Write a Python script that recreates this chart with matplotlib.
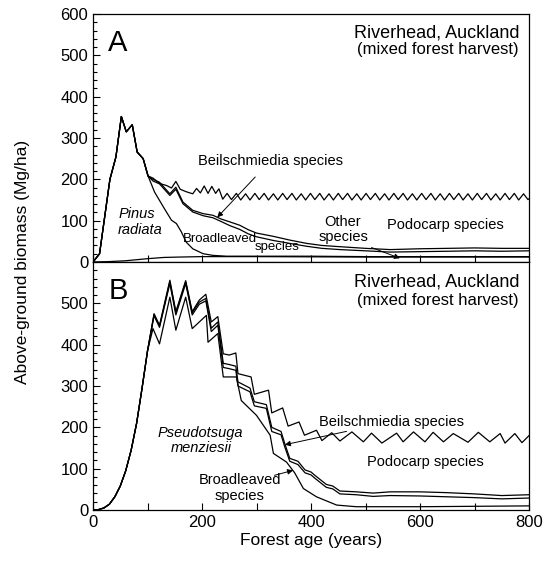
import matplotlib
matplotlib.use('Agg')
import matplotlib.pyplot as plt
from matplotlib.ticker import MultipleLocator

plt.rcParams['font.family'] = ['Liberation Sans', 'DejaVu Sans']

# ---- Panel A data (Riverhead, Pinus radiata) ----
A_early_x = [0, 12, 31, 42, 52, 61, 72, 81, 92, 101]
A_early_y = [0, 20, 200, 254, 352, 315, 332, 266, 250, 208]

# top line (Podocarp species upper bound)
A_pod_x = [110, 122, 135, 144, 152, 160, 171, 183, 190, 197, 204, 211, 218, 225, 231, 238,
           246, 254, 263, 271, 280, 288, 297, 305, 314, 322, 331, 339, 348, 356, 365, 373,
           382, 390, 399, 407, 416, 424, 433, 441, 450, 458, 467, 475, 484, 492, 501, 509,
           518, 526, 535, 543, 552, 560, 569, 577, 586, 594, 603, 611, 620, 628, 637, 645,
           654, 662, 671, 679, 688, 696, 705, 713, 722, 730, 739, 747, 756, 764, 773, 781,
           790, 798, 800]
A_pod_y = [203, 190, 185, 179, 195, 176, 170, 165, 178, 167, 184, 166, 183, 166, 177, 152,
           166, 151, 166, 150, 165, 150, 166, 151, 166, 150, 165, 150, 166, 151, 166, 150,
           165, 150, 166, 151, 166, 150, 165, 150, 166, 151, 166, 150, 165, 150, 166, 151,
           166, 150, 165, 150, 166, 151, 166, 150, 165, 150, 166, 151, 166, 150, 165, 150,
           166, 151, 166, 150, 165, 150, 166, 151, 166, 150, 165, 150, 166, 151, 166, 150,
           165, 151, 153]

# Beilschmiedia pair
A_beil_x = [110, 122, 141, 152, 165, 183, 202, 220, 235, 251, 269, 285, 300, 331, 361, 392,
            420, 453, 500, 545, 600, 650, 700, 750, 800]
A_beil1_y = [200, 193, 165, 181, 145, 125, 117, 113, 104, 97, 89, 78, 70, 62, 53, 45,
             40, 37, 33, 30, 32, 33, 34, 33, 33]
A_beil2_y = [196, 189, 161, 176, 141, 121, 112, 107, 98, 88, 79, 68, 61, 52, 45, 38,
             33, 30, 27, 24, 25, 26, 27, 26, 27]

# Pinus radiata decline
A_pinus_x = [113, 122, 131, 144, 153, 162, 171, 183, 202, 220, 245, 300, 400, 500, 600, 700, 800]
A_pinus_y = [169, 149, 129, 101, 93, 73, 48, 32, 20, 16, 14, 14, 14, 13, 13, 13, 13]

# bottom line (other species)
A_other_x = [0, 30, 60, 100, 130, 160, 200, 300, 500, 800]
A_other_y = [0, 1, 3, 8, 11, 12, 13, 13, 12, 12]

# ---- Panel B data (Riverhead, Pseudotsuga menziesii) ----
B_early_x = [0, 10, 20, 30, 40, 50, 60, 70, 80, 90, 100]
B_early_y = [0, 1, 5, 14, 32, 58, 95, 145, 210, 295, 385]

B_pod_x = [112, 122, 141, 152, 170, 182, 195, 207, 217, 229, 239, 250, 262, 266, 290, 296,
           322, 328, 348, 358, 378, 388, 410, 420, 438, 453, 475, 496, 511, 530, 557, 569,
           588, 609, 624, 643, 661, 688, 707, 728, 747, 756, 774, 787, 800]
B_pod_y = [475, 447, 556, 480, 555, 480, 508, 522, 455, 468, 378, 375, 380, 330, 322, 280,
           290, 235, 247, 203, 213, 181, 193, 168, 187, 167, 189, 165, 186, 162, 186, 165,
           189, 165, 188, 165, 185, 164, 188, 165, 185, 162, 185, 163, 180]

B_beil_x = [112, 122, 141, 152, 170, 182, 195, 207, 217, 229, 239, 250, 262, 266, 288, 296,
            318, 328, 345, 352, 361, 376, 389, 400, 407, 428, 440, 453, 483, 514, 545, 600,
            650, 700, 750, 800]
B_beil1_y = [473, 445, 553, 477, 552, 477, 503, 512, 440, 455, 355, 352, 348, 310, 295, 262,
             255, 200, 190, 160, 125, 118, 97, 92, 84, 62, 58, 46, 44, 41, 44, 44,
             42, 39, 35, 37]
B_beil2_y = [470, 442, 548, 472, 548, 472, 498, 506, 432, 447, 345, 342, 338, 300, 286, 252,
             246, 190, 182, 152, 118, 110, 90, 85, 77, 55, 51, 39, 37, 33, 35, 34,
             32, 30, 27, 29]

B_pseudo_x = [110, 122, 141, 152, 170, 182, 208, 211, 229, 239, 263, 272, 300, 325, 331, 355,
              370, 386, 410, 447, 483, 545, 600, 700, 800]
B_pseudo_y = [439, 402, 515, 435, 515, 439, 471, 406, 427, 322, 322, 265, 229, 181, 137, 116,
              90, 52, 32, 12, 8, 8, 8, 9, 10]

x_ticks = [0, 100, 200, 300, 400, 500, 600, 700, 800]
x_ticklabels = ['0', '', '200', '', '400', '', '600', '', '800']


def style_axis(ax, yticks):
    ax.set_xlim(0, 800)
    ax.set_ylim(0, 600)
    ax.set_xticks(x_ticks)
    ax.set_yticks(yticks)
    ax.yaxis.set_minor_locator(MultipleLocator(20))
    ax.tick_params(which='both', direction='in', top=False, right=False, labelsize=12)
    ax.tick_params(which='major', length=5, width=0.8)
    ax.tick_params(which='minor', length=3, width=0.8)
    for s in ax.spines.values():
        s.set_linewidth(0.9)


def line(ax, x, y):
    ax.plot(x, y, color='black', lw=0.9)


fig = plt.figure(figsize=(5.55, 5.65), dpi=100)
axA = fig.add_axes([0.1676, 0.5363, 0.7856, 0.4389])
axB = fig.add_axes([0.1676, 0.0973, 0.7856, 0.4389])

# Panel A
line(axA, A_early_x + A_pod_x, A_early_y + A_pod_y)
line(axA, A_early_x + A_beil_x, A_early_y + A_beil1_y)
line(axA, A_early_x + A_beil_x, A_early_y + A_beil2_y)
line(axA, A_early_x + A_pinus_x, A_early_y + A_pinus_y)
line(axA, A_other_x, A_other_y)
style_axis(axA, [0, 100, 200, 300, 400, 500, 600])
axA.set_xticklabels([])

axA.text(0.035, 0.885, 'A', transform=axA.transAxes, fontsize=21, va='center')
axA.text(783, 553, 'Riverhead, Auckland', ha='right', va='center', fontsize=13)
axA.text(780, 513, '(mixed forest harvest)', ha='right', va='center', fontsize=12)
axA.text(46, 116, 'Pinus', style='italic', fontsize=10.5, va='center')
axA.text(46, 77, 'radiata', style='italic', fontsize=10.5, va='center')
axA.text(233, 55, 'Broadleaved', ha='center', va='center', fontsize=9.5)
axA.text(338, 36, 'species', ha='center', va='center', fontsize=9.5)
axA.annotate('Beilschmiedia species', xy=(228, 108), xytext=(325, 244),
             ha='center', va='center', fontsize=10.5,
             arrowprops=dict(arrowstyle='-|>', lw=0.7, color='black', mutation_scale=8,
                             shrinkA=6, shrinkB=0))
axA.text(457, 97, 'Other', ha='center', va='center', fontsize=10.5)
axA.annotate('species', xy=(563, 9), xytext=(459, 61),
             ha='center', va='center', fontsize=10.5,
             arrowprops=dict(arrowstyle='-|>', lw=0.7, color='black', mutation_scale=8,
                             shrinkA=2, shrinkB=0))
axA.text(646, 90, 'Podocarp species', ha='center', va='center', fontsize=10.5)

# Panel B
line(axB, B_early_x + B_pod_x, B_early_y + B_pod_y)
line(axB, B_early_x + B_beil_x, B_early_y + B_beil1_y)
line(axB, B_early_x + B_beil_x, B_early_y + B_beil2_y)
line(axB, B_early_x + B_pseudo_x, B_early_y + B_pseudo_y)
style_axis(axB, [0, 100, 200, 300, 400, 500])
axB.set_xticklabels(x_ticklabels)

axB.text(0.035, 0.885, 'B', transform=axB.transAxes, fontsize=21, va='center')
axB.text(783, 552, 'Riverhead, Auckland', ha='right', va='center', fontsize=13)
axB.text(780, 508, '(mixed forest harvest)', ha='right', va='center', fontsize=12)
axB.text(197, 187, 'Pseudotsuga', style='italic', ha='center', va='center', fontsize=10.5)
axB.text(199, 150, 'menziesii', style='italic', ha='center', va='center', fontsize=10.5)
axB.text(269, 73, 'Broadleaved', ha='center', va='center', fontsize=10.5)
axB.text(268, 34, 'species', ha='center', va='center', fontsize=10.5)
axB.annotate('', xy=(367, 96), xytext=(333, 84),
             arrowprops=dict(arrowstyle='-|>', lw=0.7, color='black', mutation_scale=8,
                             shrinkA=0, shrinkB=0))
axB.annotate('Beilschmiedia species', xy=(352, 158), xytext=(415, 214),
             ha='left', va='center', fontsize=10.5,
             arrowprops=dict(arrowstyle='-|>', lw=0.7, color='black', mutation_scale=8,
                             shrinkA=0, shrinkB=0))
axB.text(610, 117, 'Podocarp species', ha='center', va='center', fontsize=10.5)

axB.set_xlabel('Forest age (years)', fontsize=12.5, labelpad=2)
fig.text(0.04, 0.536, 'Above-ground biomass (Mg/ha)', rotation=90,
         ha='center', va='center', fontsize=12.5)

fig.savefig('out.png', dpi=100)
